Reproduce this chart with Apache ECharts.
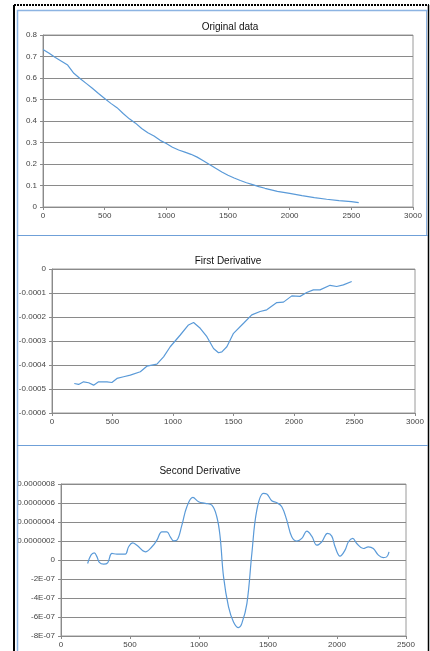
<!DOCTYPE html>
<html><head><meta charset="utf-8">
<script src="https://cdn.jsdelivr.net/npm/echarts@6/dist/echarts.min.js"></script>
<style>html,body{margin:0;padding:0;background:#fff}#c{width:430px;height:651px}</style>
</head><body><div id="c"></div>
<script>
// Original data
const origX = [0,50,100,150,200,250,300,350,400,450,500,550,600,650,700,750,800,850,900,950,1000,1050,1100,1150,1200,1250,1300,1350,1400,1450,1500,1550,1600,1650,1700,1750,1800,1850,1900,1950,2000,2100,2200,2300,2400,2500,2560];
const origY = [0.733,0.715,0.695,0.678,0.66,0.622,0.598,0.575,0.552,0.528,0.505,0.482,0.462,0.435,0.41,0.39,0.365,0.345,0.33,0.31,0.295,0.278,0.265,0.255,0.245,0.232,0.215,0.198,0.18,0.163,0.148,0.135,0.123,0.113,0.104,0.095,0.087,0.08,0.073,0.068,0.063,0.053,0.044,0.036,0.03,0.025,0.02];
// First derivative
const d1X = [184,220,261,303,344,385,454,495,537,592,647,730,784,867,922,977,1060,1128,1170,1225,1280,1335,1376,1404,1445,1500,1583,1651,1720,1775,1858,1913,1982,2050,2105,2160,2215,2298,2353,2408,2477];
const d1Y = [-4.77e-4,-4.81e-4,-4.70e-4,-4.74e-4,-4.84e-4,-4.70e-4,-4.70e-4,-4.73e-4,-4.56e-4,-4.49e-4,-4.42e-4,-4.28e-4,-4.05e-4,-3.96e-4,-3.66e-4,-3.24e-4,-2.75e-4,-2.33e-4,-2.23e-4,-2.47e-4,-2.82e-4,-3.31e-4,-3.49e-4,-3.45e-4,-3.24e-4,-2.68e-4,-2.26e-4,-1.91e-4,-1.77e-4,-1.70e-4,-1.40e-4,-1.38e-4,-1.12e-4,-1.14e-4,-0.98e-4,-0.87e-4,-0.87e-4,-0.68e-4,-0.73e-4,-0.66e-4,-0.52e-4];
// Second derivative
const d2X = [193,217,241,261,278,309,338,369,405,430,466,490,519,550,611,659,695,731,767,792,816,840,876,912,956,997,1045,1093,1129,1153,1178,1214,1250,1286,1310,1347,1383,1419,1467,1491,1527,1564,1600,1636,1672,1709,1745,1781,1817,1854,1890,1931,1962,1986,2022,2058,2083,2114,2143,2191,2227,2263,2300,2336,2360,2377];
const d2Y = [-0.37,0.51,0.76,0.33,-0.26,-0.44,-0.30,0.69,0.62,0.62,0.62,1.39,1.81,1.56,0.86,1.39,2.09,2.97,2.97,2.44,2.02,2.09,3.67,5.61,6.59,6.14,5.96,5.78,4.55,2.44,-1.78,-4.94,-6.52,-7.12,-6.70,-4.59,0.69,5.26,7.01,6.94,6.24,6.03,5.61,4.20,2.44,1.99,2.27,3.04,2.51,1.56,1.92,2.80,2.51,1.39,0.40,1.04,1.92,2.27,1.74,1.21,1.39,1.21,0.51,0.26,0.33,0.86].map(v=>v*1e-7);
// Tick labels
const titles = ['Original data','First Derivative','Second Derivative'];
const d2Labels = ['-8E-07','-6E-07','-4E-07','-2E-07','0','0.0000002','0.0000004','0.0000006','0.0000008'];

const FONT = 'Liberation Sans, Arial, sans-serif';
const LINE = '#5a9ad8';
const lab = {color:'#444', fontSize:8, fontFamily:FONT};
const split = {show:true, lineStyle:{color:'#8a8a8a', width:1}};
const axl = {show:true, lineStyle:{color:'#8a8a8a'}};
const tick = {show:true, length:3, lineStyle:{color:'#8a8a8a'}};
const xfmt = v => String(Math.round(v));

const chart = echarts.init(document.getElementById('c'), null, {renderer:'canvas'});
const pair = (xs, ys) => xs.map((x,i)=>[x, ys[i]]);
const grids = [
  {left:43, width:370, top:35, height:172},
  {left:52, width:363, top:269, height:144},
  {left:61, width:345, top:484, height:152}
];
chart.setOption({
  animation:false,
  title: [
    {text:titles[0], left:225, top:17, textAlign:'center', textStyle:{fontSize:10, fontWeight:'normal', color:'#111', fontFamily:FONT}},
    {text:titles[1], left:223, top:251, textAlign:'center', textStyle:{fontSize:10, fontWeight:'normal', color:'#111', fontFamily:FONT}},
    {text:titles[2], left:195, top:461, textAlign:'center', textStyle:{fontSize:10, fontWeight:'normal', color:'#111', fontFamily:FONT}}
  ],
  grid: grids.map(g=>Object.assign({show:true, borderColor:'#9a9a9a', borderWidth:1, backgroundColor:'#fff'}, g)),
  xAxis: [
    {gridIndex:0, type:'value', min:0, max:3000, interval:500, axisLine:Object.assign({onZero:false},axl), axisTick:tick, splitLine:{show:false}, axisLabel:Object.assign({margin:5, formatter:xfmt},lab)},
    {gridIndex:1, type:'value', min:0, max:3000, interval:500, axisLine:Object.assign({onZero:false},axl), axisTick:tick, splitLine:{show:false}, axisLabel:Object.assign({margin:5, formatter:xfmt},lab)},
    {gridIndex:2, type:'value', min:0, max:2500, interval:500, axisLine:Object.assign({onZero:false},axl), axisTick:tick, splitLine:{show:false}, axisLabel:Object.assign({margin:5, formatter:xfmt},lab)}
  ],
  yAxis: [
    {gridIndex:0, type:'value', min:0, max:0.8, interval:0.1, axisLine:axl, axisTick:tick, splitLine:split, axisLabel:Object.assign({margin:6, formatter:v=>v.toFixed(1).replace(/^0\.0$/,'0')},lab)},
    {gridIndex:1, type:'value', min:-0.0006, max:0, interval:0.0001, axisLine:axl, axisTick:tick, splitLine:split, axisLabel:Object.assign({margin:6, formatter:v=>{const k=(Math.round(v*1e4)/1e4).toFixed(4); return Math.abs(v)<1e-9?'0':k;}},lab)},
    {gridIndex:2, type:'value', min:-8e-7, max:8e-7, interval:2e-7, axisLine:axl, axisTick:tick, splitLine:split, axisLabel:Object.assign({margin:6, formatter:v=>d2Labels[Math.round(v/2e-7)+4]},lab)}
  ],
  series: [
    {type:'line', xAxisIndex:0, yAxisIndex:0, data:pair(origX,origY), showSymbol:false, lineStyle:{color:LINE, width:1.2}},
    {type:'line', xAxisIndex:1, yAxisIndex:1, data:pair(d1X,d1Y), showSymbol:false, lineStyle:{color:LINE, width:1.2}},
    {type:'line', xAxisIndex:2, yAxisIndex:2, data:pair(d2X,d2Y), showSymbol:false, smooth:0.4, lineStyle:{color:LINE, width:1.2}}
  ],
  graphic: [
    {type:'rect', shape:{x:0,y:0,width:14,height:651}, style:{fill:'#fff'}, z:100},
    {type:'line', shape:{x1:14,y1:5,x2:14,y2:651}, style:{stroke:'#000', lineWidth:2}, z:101},
    {type:'line', shape:{x1:14,y1:5,x2:429,y2:5}, style:{stroke:'#000', lineWidth:2, lineDash:[2,1]}, z:101},
    {type:'line', shape:{x1:428.5,y1:5,x2:428.5,y2:651}, style:{stroke:'#000', lineWidth:1.5}, z:101},
    {type:'line', shape:{x1:17.5,y1:10,x2:17.5,y2:651}, style:{stroke:'#8db4e2', lineWidth:1.5}, z:101},
    {type:'line', shape:{x1:17,y1:10.5,x2:428,y2:10.5}, style:{stroke:'#8db4e2', lineWidth:1.5}, z:101},
    {type:'line', shape:{x1:426.5,y1:10,x2:426.5,y2:235}, style:{stroke:'#8db4e2', lineWidth:1}, z:101},
    {type:'line', shape:{x1:17,y1:235.5,x2:428,y2:235.5}, style:{stroke:'#6fa0d8', lineWidth:1}, z:101},
    {type:'line', shape:{x1:17,y1:445.5,x2:428,y2:445.5}, style:{stroke:'#6fa0d8', lineWidth:1}, z:101}
  ]
});
</script></body></html>
